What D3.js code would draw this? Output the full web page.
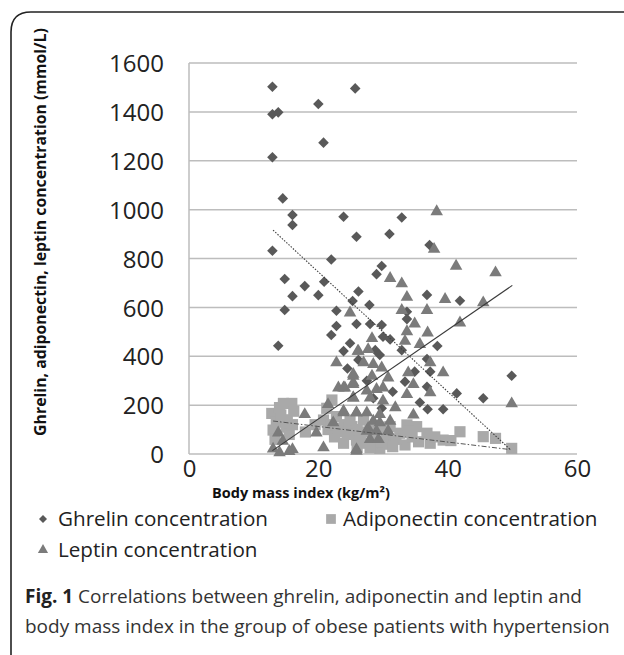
<!DOCTYPE html>
<html><head><meta charset="utf-8">
<script src="https://cdn.jsdelivr.net/npm/d3@7/dist/d3.min.js"></script>
<style>body{margin:0;background:#fff}svg{display:block}</style>
</head><body>
<svg id="c" width="624" height="655"></svg>
<script>
// ---- data ----
const ghrelin = [[12.9,1503],[12.9,1390],[13.8,1398],[20.0,1432],[25.7,1496],[20.8,1274],[12.9,1214],[14.5,1046],[16.0,978],[16.0,937],[23.9,971],[25.9,889],[12.9,832],[22.0,796],[32.9,968],[31.0,900],[37.2,855],[14.8,716],[17.9,687],[20.9,705],[16.0,646],[20.0,650],[26.2,665],[25.3,626],[14.8,589],[22.8,586],[25.9,532],[22.8,524],[22.0,487],[13.8,443],[24.9,453],[23.9,421],[29.8,769],[29.0,736],[27.9,610],[36.8,651],[41.9,627],[33.7,582],[33.7,552],[28.0,532],[29.8,528],[30.0,480],[31.1,469],[28.8,425],[29.5,405],[32.9,425],[38.4,442],[26.2,385],[36.8,389],[37.3,337],[34.9,337],[33.4,296],[36.8,275],[41.4,248],[45.5,228],[49.9,320],[35.7,211],[36.9,183],[39.3,183],[28.5,228],[29.8,187],[27.5,300],[31.5,255],[24.5,350]];
const adiponectin = [[12.8,166],[14.6,207],[15.9,207],[13.0,98],[13.5,130],[14.2,160],[15.0,110],[16.2,175],[13.3,60],[15.5,80],[14.0,190],[15.2,140],[16.0,120],[20.8,139],[21.3,187],[22.1,221],[22.8,153],[21.5,100],[23.8,91],[25.9,57],[25.2,112],[24.9,139],[27.0,139],[26.0,100],[22.5,70],[23.9,44],[27.0,44],[28.5,71],[29.5,23],[28.0,100],[29.5,110],[30.5,80],[31.1,112],[31.1,57],[32.6,85],[33.7,119],[33.4,37],[35.2,112],[36.8,85],[37.3,44],[39.3,57],[41.9,91],[45.5,71],[47.4,64],[49.9,23],[34.5,70],[30.0,40],[26.5,75],[24.0,120],[19.5,120],[18.0,90],[38.0,70],[40.5,55],[22.0,120],[23.0,105],[24.5,80],[27.5,90],[29.0,50],[32.0,60],[35.5,50],[26.0,30],[28.0,25],[31.5,30],[34.0,95]];
const leptin = [[38.3,996],[37.9,842],[24.9,582],[22.8,378],[26.1,425],[25.4,331],[23.1,275],[24.1,275],[25.4,296],[21.5,207],[25.4,234],[17.9,166],[23.9,180],[25.9,173],[13.8,91],[19.7,91],[13.0,25],[14.5,57],[16.0,23],[20.8,30],[22.3,132],[25.9,23],[27.7,110],[41.3,773],[47.4,746],[31.1,723],[32.9,701],[33.7,646],[39.6,637],[45.5,623],[32.9,592],[36.8,592],[34.9,537],[41.9,541],[33.7,505],[36.9,500],[28.3,477],[33.4,466],[35.7,453],[26.2,425],[27.7,432],[27.0,378],[28.5,371],[29.8,357],[37.3,378],[39.3,337],[25.4,323],[28.3,323],[30.8,316],[33.9,337],[34.7,289],[23.9,275],[25.4,289],[27.5,262],[29.0,269],[30.0,275],[37.3,255],[33.7,248],[25.4,234],[28.0,234],[30.0,221],[31.9,194],[49.9,210],[23.9,173],[25.9,173],[27.5,173],[29.5,166],[34.7,164],[28.5,139],[29.5,132],[31.1,139],[27.5,98],[29.0,98],[30.8,98],[28.0,64],[29.3,64],[25.9,16],[14.0,10],[15.5,15]];
const ghrelinTrend = [[13,916],[49.7,18]];
const adiponectinTrend = [[13,135],[49.7,18]];
const leptinTrend = [[12.9,14],[50,690]];
const xTicks = [0,20,40,60];
const yTicks = [0,200,400,600,800,1000,1200,1400,1600];
const legendLabels = ["Ghrelin concentration","Adiponectin concentration","Leptin concentration"];
const yTitle = "Ghrelin, adiponectin, leptin concentration (mmol/L)";
const xTitle = "Body mass index (kg/m²)";
const captionBold = "Fig. 1";
const captionLines = [" Correlations between ghrelin, adiponectin and leptin and","body mass index in the group of obese patients with hypertension"];

// ---- drawing ----
const svg = d3.select("#c");
const x = d3.scaleLinear().domain([0,60]).range([189,577]);
const y = d3.scaleLinear().domain([0,1600]).range([454,63]);
const FONT = "'Open Sans', 'DejaVu Sans', sans-serif";

function fit(sel, target){
  const n = sel.node();
  const w = n.getComputedTextLength();
  const fs = parseFloat(sel.attr("font-size"));
  sel.attr("font-size", (fs*target/w).toFixed(2));
}

// frame
svg.append("path").attr("d","M11,655 L11,32 Q11,12 31,12 L624,12")
  .attr("fill","none").attr("stroke","#222").attr("stroke-width",1.6);

// gridlines
svg.append("g").selectAll("line").data(yTicks).join("line")
  .attr("x1",x(0)).attr("x2",x(60)).attr("y1",d=>y(d)).attr("y2",d=>y(d))
  .attr("stroke","#bdbdbd").attr("stroke-width",1.5);
svg.append("line").attr("x1",x(0)).attr("x2",x(0)).attr("y1",y(1600)).attr("y2",y(0))
  .attr("stroke","#bdbdbd").attr("stroke-width",1.5);

// y axis tick labels
const yAxis = d3.axisLeft(y).tickValues(yTicks).tickSize(0).tickPadding(0).tickFormat(d3.format("d"));
const gy = svg.append("g").attr("transform",`translate(${x(0)-25},0)`).call(yAxis);
gy.select(".domain").remove();
gy.selectAll("text").attr("font-family",FONT).attr("font-size",24).attr("fill","#222").attr("dy","0.36em");

const xAxis = d3.axisBottom(x).tickValues(xTicks).tickSize(0).tickPadding(0);
const gx = svg.append("g").attr("transform",`translate(0,${y(0)+6})`).call(xAxis);
gx.select(".domain").remove();
gx.selectAll("text").attr("font-family",FONT).attr("font-size",24).attr("fill","#222").attr("dy","0.71em");

// axis titles
const yt = svg.append("text").attr("transform","translate(46,232) rotate(-90)")
  .attr("text-anchor","middle").attr("font-family",FONT).attr("font-weight","bold")
  .attr("font-size",14).attr("fill","#111").text(yTitle);
fit(yt, 408);
const xt = svg.append("text").attr("x",301).attr("y",498).attr("text-anchor","middle")
  .attr("font-family",FONT).attr("font-weight","bold").attr("font-size",14).attr("fill","#111").text(xTitle);
fit(xt, 178);

// markers
const plot = svg.append("g");
const diamond = d3.symbol().type(d3.symbolSquare).size(56);
const square = d3.symbol().type(d3.symbolSquare).size(125);
const tri = d3.symbol().type(d3.symbolTriangle).size(68);
plot.append("g").selectAll("path").data(ghrelin).join("path")
  .attr("d",diamond).attr("transform",d=>`translate(${x(d[0])},${y(d[1])}) rotate(45)`).attr("fill","#595959");
plot.append("g").selectAll("path").data(adiponectin).join("path")
  .attr("d",square).attr("transform",d=>`translate(${x(d[0])},${y(d[1])})`).attr("fill","#a9a9a9");
plot.append("g").selectAll("path").data(leptin).join("path")
  .attr("d",tri).attr("transform",d=>`translate(${x(d[0])},${y(d[1])+1})`).attr("fill","#7b7b7b");

// trend lines
const line = d3.line().x(d=>x(d[0])).y(d=>y(d[1]));
svg.append("path").attr("d",line(ghrelinTrend)).attr("fill","none").attr("stroke","#404040")
  .attr("stroke-width",1.1).attr("stroke-dasharray","1.5,1.5");
svg.append("path").attr("d",line(adiponectinTrend)).attr("fill","none").attr("stroke","#555")
  .attr("stroke-width",1).attr("stroke-dasharray","5,2,1.5,2");
svg.append("path").attr("d",line(leptinTrend)).attr("fill","none").attr("stroke","#3a3a3a")
  .attr("stroke-width",1.1);

// legend
const lg = svg.append("g");
lg.append("path").attr("d",d3.symbol().type(d3.symbolSquare).size(32)).attr("transform","translate(43,519) rotate(45)").attr("fill","#595959");
lg.append("path").attr("d",d3.symbol().type(d3.symbolSquare).size(95)).attr("transform","translate(331,519)").attr("fill","#a9a9a9");
lg.append("path").attr("d",d3.symbol().type(d3.symbolTriangle).size(45)).attr("transform","translate(43,550)").attr("fill","#7b7b7b");
const l1 = lg.append("text").attr("x",58).attr("y",526).attr("font-family",FONT).attr("font-size",20).attr("fill","#222").text(legendLabels[0]);
fit(l1, 210);
const lfs = l1.attr("font-size");
lg.append("text").attr("x",343).attr("y",526).attr("font-family",FONT).attr("font-size",lfs).attr("fill","#222").text(legendLabels[1]);
lg.append("text").attr("x",58).attr("y",557).attr("font-family",FONT).attr("font-size",lfs).attr("fill","#222").text(legendLabels[2]);

// caption
const c1 = svg.append("text").attr("x",25).attr("y",603).attr("font-family",FONT).attr("font-size",20).attr("fill","#333");
c1.append("tspan").attr("font-weight","bold").attr("fill","#222").text(captionBold);
c1.append("tspan").text(captionLines[0]);
const c2 = svg.append("text").attr("x",25).attr("y",633).attr("font-family",FONT).attr("font-size",20).attr("fill","#333").text(captionLines[1]);
fit(c2, 585);
c1.attr("font-size", c2.attr("font-size"));
</script>
</body></html>
